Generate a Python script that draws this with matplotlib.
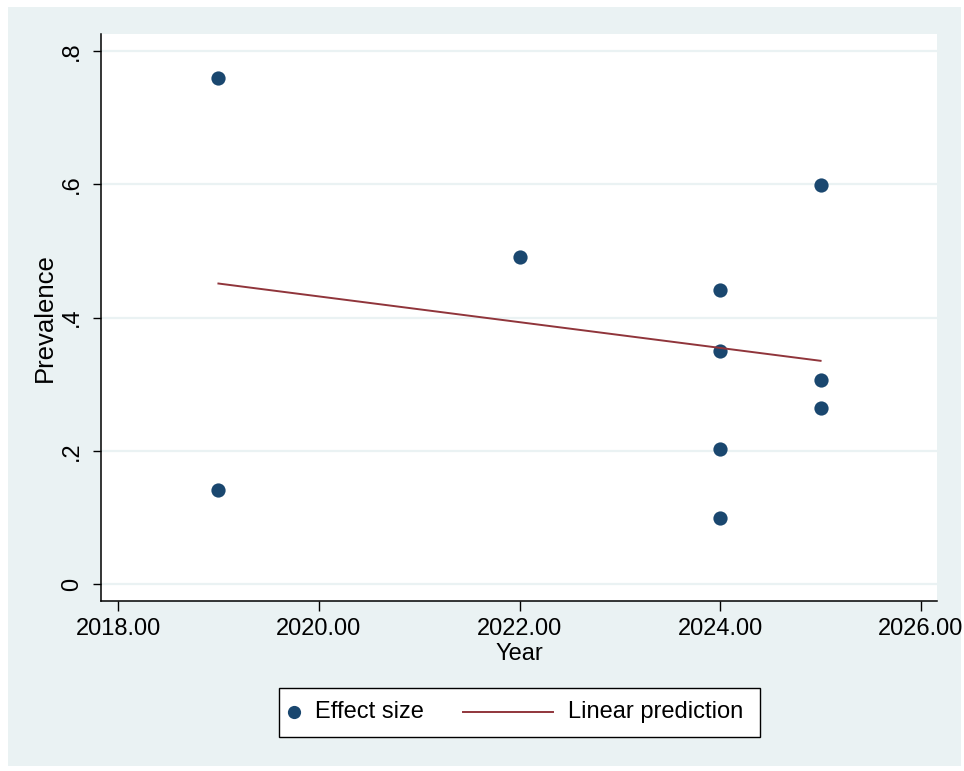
import matplotlib
matplotlib.use("Agg")
import matplotlib.pyplot as plt
from matplotlib.patches import Rectangle
from matplotlib.lines import Line2D

plt.rcParams['font.family'] = ['Liberation Sans', 'DejaVu Sans']

# Data
years = [2019, 2019, 2022, 2024, 2024, 2024, 2024, 2025, 2025, 2025]
prevalence = [0.760, 0.141, 0.491, 0.442, 0.349, 0.202, 0.099, 0.599, 0.306, 0.264]
pred_years = [2019, 2025]
pred_values = [0.451, 0.335]
xticks = [2018, 2020, 2022, 2024, 2026]
xtick_labels = ["2018.00", "2020.00", "2022.00", "2024.00", "2026.00"]
yticks = [0, 0.2, 0.4, 0.6, 0.8]
ytick_labels = ["0", ".2", ".4", ".6", ".8"]

NAVY = "#1a476f"
MAROON = "#90353b"
BG = "#eaf2f3"

W, H = 964, 771
fig = plt.figure(figsize=(W / 100, H / 100), dpi=100, facecolor="white")

# outer graph region
fig.patches.append(Rectangle((8 / W, 1 - 766 / H), (961 - 8) / W, (766 - 7) / H,
                             transform=fig.transFigure, facecolor=BG,
                             edgecolor="none", zorder=-10))

ax = fig.add_axes([101 / W, 1 - 601 / H, (937 - 101) / W, (601 - 34) / H])
ax.set_zorder(1)
ax.set_facecolor("white")
ax.set_xlim(2017.83, 2026.16)
ax.set_ylim(-0.0255, 0.8255)

for s in ["top", "right"]:
    ax.spines[s].set_visible(False)
for s in ["left", "bottom"]:
    ax.spines[s].set_linewidth(1.1)
    ax.spines[s].set_color("black")

ax.set_yticks(yticks)
ax.set_yticklabels(ytick_labels, rotation=90, va="center", ha="right")
ax.set_xticks(xticks)
ax.set_xticklabels(xtick_labels)
ax.tick_params(axis="y", length=6, width=1.0, pad=7, labelsize=17)
ax.tick_params(axis="x", length=7, width=1.0, pad=5.5, labelsize=17)

ax.grid(axis="y", color=BG, linewidth=1.6)
ax.set_axisbelow(True)

ax.scatter(years, prevalence, s=105, color=NAVY, zorder=3, linewidths=0)
ax.plot(pred_years, pred_values, color=MAROON, lw=1.4, zorder=4)

ax.set_xlabel("Year", fontsize=17, labelpad=2)
ax.set_ylabel("Prevalence", fontsize=18.5, labelpad=3)

# legend box
def fx(x):
    return x / W

def fy(y):
    return 1 - y / H

fig.patches.append(Rectangle((fx(279), fy(737)), (760 - 279) / W, (737 - 688) / H,
                             transform=fig.transFigure, facecolor="white",
                             edgecolor="black", linewidth=1.0, zorder=5))
fig.lines.append(Line2D([fx(294)], [fy(712)], marker="o", markersize=9.5,
                        color=NAVY, markeredgewidth=0, linestyle="",
                        transform=fig.transFigure, zorder=6))
fig.text(fx(315), fy(712), "Effect size", fontsize=17, va="center", ha="left", zorder=6)
fig.lines.append(Line2D([fx(463), fx(553)], [fy(712), fy(712)], color=MAROON,
                        lw=1.4, transform=fig.transFigure, zorder=6))
fig.text(fx(568), fy(712), "Linear prediction", fontsize=17, va="center", ha="left", zorder=6)

fig.savefig("out.png", dpi=100, facecolor="white")
